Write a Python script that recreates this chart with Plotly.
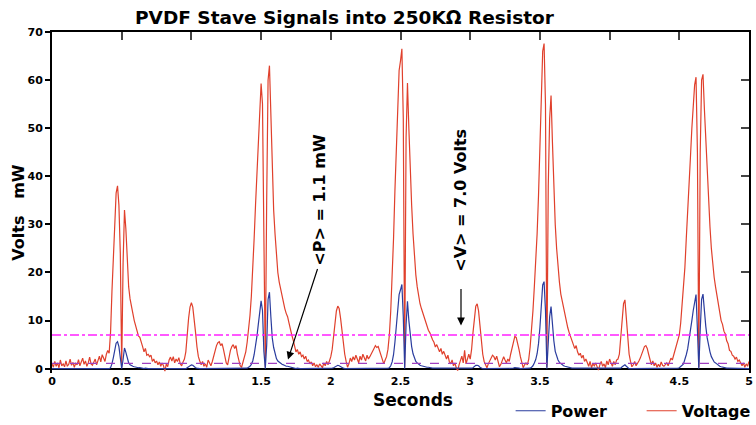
import plotly.graph_objects as go

# time base: 0.00 .. 5.00 s, 0.01 s sampling
seconds = [i / 100 for i in range(501)]

# Voltage (V), one row per 0.1 s
voltage = [
    1.0, 0.3, 1.5, 0.5, 1.2, 0.2, 1.8, 0.6, 1.0, 0.4,
    1.6, 0.5, 0.9, 2.0, 0.7, 1.3, 0.3, 1.1, 0.8, 1.9,
    0.6, 1.4, 2.2, 0.9, 1.6, 0.5, 1.2, 2.4, 1.0, 0.7,
    1.5, 2.0, 0.8, 1.7, 2.6, 1.4, 2.9, 2.2, 1.5, 3.0,
    3.8, 3.2, 7.5, 16.0, 24.0, 31.0, 36.5, 38.0, 34.0, 24.0,
    0.3, 22.0, 33.0, 29.0, 22.0, 17.0, 14.5, 12.5, 11.5, 10.0,
    8.8, 7.5, 6.8, 6.5, 5.2, 4.6, 3.5, 4.2, 2.8, 3.0,
    2.5, 2.8, 1.5, 2.0, 1.2, 1.6, 0.8, 1.4, 0.5, 1.2,
    0.6, -0.5, 1.0, 0.4, 1.8, 2.4, 1.6, 2.5, 1.2, 2.0,
    1.5, 2.3, 1.0, 0.6, 1.4, 2.0, 3.5, 7.5, 10.5, 12.8,
    13.7, 12.8, 10.5, 7.5, 4.5, 2.5, 1.6, 0.8, 1.5, 0.5,
    1.0, 0.3, 1.8, 1.0, 0.6, 1.5, 2.8, 4.0, 4.8, 5.4,
    5.6, 4.8, 5.2, 4.0, 2.5, 1.2, 0.8, 2.5, 3.8, 4.6,
    5.0, 4.2, 4.8, 3.0, 1.5, 0.6, 0.3, 1.2, 2.5, 3.5,
    5.5, 8.0, 11.0, 15.0, 20.0, 27.0, 34.0, 41.0, 48.0, 54.0,
    59.3, 55.0, 30.0, 0.3, 35.0, 60.0, 63.0, 52.0, 40.0, 33.0,
    28.0, 23.0, 20.0, 18.0, 16.5, 15.0, 14.0, 12.5, 11.5, 10.8,
    9.5, 8.0, 7.0, 6.0, 5.0, 3.5, 4.0, 3.0, 3.5, 2.5,
    2.8, 2.0, 2.6, 1.5, 1.8, 1.0, 1.4, 0.6, 1.2, 0.4,
    0.8, 0.3, 1.0, 0.5, 0.2, 1.2, 0.6, 1.5, 0.8, 1.6,
    2.5, 4.0, 6.5, 9.5, 12.0, 13.0, 12.5, 10.5, 7.5, 5.0,
    3.0, 1.5, 0.3, 1.0, 2.2, 1.5, 2.5, 1.8, 2.8, 2.0,
    1.2, 2.6, 1.8, 3.0, 2.2, 1.6, 2.8, 2.0, 2.5, 3.2,
    3.8, 4.2, 4.8, 4.4, 4.6, 3.8, 2.6, 2.2, 1.0, 1.8,
    2.5, 4.0, 7.0, 12.0, 19.0, 27.0, 37.0, 47.0, 56.0, 62.0,
    64.0, 66.5, 52.0, 0.3, 48.0, 59.4, 50.0, 41.0, 34.0, 28.0,
    23.0, 19.5, 17.0, 15.0, 13.5, 12.5, 11.5, 10.5, 9.8, 9.0,
    8.0, 7.5, 6.5, 6.0, 5.5, 4.5, 5.0, 4.0, 3.5, 4.2,
    3.0, 3.6, 2.5, 2.0, 2.8, 1.5, 1.0, 1.8, 0.6, 1.2,
    0.2, -0.4, 0.8, 1.5, 2.6, 1.2, 3.8, 1.0, 2.0, 3.0,
    2.0, 4.0, 7.5, 11.0, 13.0, 13.5, 12.0, 9.0, 5.5, 3.0,
    1.5, 0.8, 0.2, 1.0, 1.6, 2.2, 2.8, 2.5, 1.8, 2.6,
    1.2, 0.4, 0.9, 1.6, 2.5, 1.8, 1.2, 2.0, 1.5, 3.0,
    4.5, 6.0, 6.7, 6.5, 5.5, 4.0, 2.5, 1.0, 0.2, 0.8,
    1.2, 0.8, 2.0, 4.5, 8.0, 12.0, 17.0, 22.0, 28.0, 36.0,
    46.0, 58.0, 66.0, 67.6, 55.0, 0.3, 38.0, 52.0, 56.8, 47.0,
    38.0, 30.0, 25.0, 21.0, 18.0, 15.5, 14.0, 12.5, 11.0, 9.5,
    8.5, 7.5, 6.5, 5.5, 5.0, 4.2, 4.8, 3.5, 2.8, 3.2,
    2.2, 2.8, 1.5, 2.0, 1.2, 0.5, 1.5, 0.2, 1.0, 0.6,
    1.2, 0.4, -0.3, 0.8, 1.5, 0.5, 1.0, 0.2, 1.6, 0.8,
    2.0, 1.2, 0.5, 1.5, 0.8, 1.8, 2.0, 3.0, 6.0, 10.5,
    13.5, 14.3, 11.0, 6.5, 3.0, 1.5, 0.4, 0.8, 1.5, 0.6,
    1.0, 1.6, 2.2, 3.0, 4.0, 4.6, 4.8, 4.2, 3.0, 1.8,
    0.8, 1.6, 0.6, 1.2, 0.3, 0.9, 0.4, 1.4, 0.7, 0.5,
    0.8, 1.2, 0.6, 1.5, 2.2, 1.8, 2.8, 3.5, 4.5, 5.5,
    7.0, 9.5, 13.0, 16.0, 21.0, 27.0, 32.0, 38.0, 44.0, 50.0,
    55.0, 59.0, 60.6, 45.0, 0.3, 45.0, 60.0, 61.2, 54.0, 47.0,
    40.0, 34.0, 29.5, 25.0, 21.5, 19.0, 17.0, 15.0, 13.0, 11.5,
    10.0, 9.2, 7.8, 7.2, 5.8, 5.2, 3.8, 3.6, 2.8, 2.6,
    2.0, 2.4, 1.5, 1.8, 1.0, 0.6, 1.2, 0.3, 1.0, 0.5,
    1.5,
]

# Power (mW), one row per 0.1 s
power = [
    0, 0, 0, 0, 0, 0, 0, 0, 0, 0,
    0, 0, 0, 0, 0, 0, 0, 0, 0, 0,
    0, 0, 0, 0, 0, 0, 0, 0, 0, 0,
    0, 0, 0, 0, 0, 0, 0, 0, 0, 0,
    0.1, 0.0, 0.2, 1.0, 2.3, 3.8, 5.3, 5.6, 4.6, 2.3,
    0.0, 1.9, 4.3, 3.4, 1.9, 1.2, 0.8, 0.6, 0.5, 0.4,
    0.3, 0.2, 0.2, 0.2, 0.1, 0.1, 0.0, 0.1, 0.0, 0.0,
    0, 0, 0, 0, 0, 0, 0, 0, 0, 0,
    0, 0, 0, 0, 0, 0, 0, 0, 0, 0,
    0, 0, 0, 0, 0, 0, 0.0, 0.2, 0.4, 0.7,
    0.8, 0.7, 0.4, 0.2, 0.1, 0, 0, 0, 0, 0,
    0, 0, 0, 0, 0, 0, 0, 0.1, 0.1, 0.1,
    0.1, 0.1, 0.1, 0.1, 0, 0, 0, 0, 0.1, 0.1,
    0.1, 0.1, 0.1, 0, 0, 0, 0, 0, 0, 0,
    0.1, 0.3, 0.5, 0.9, 1.6, 2.9, 4.6, 6.7, 9.2, 11.7,
    14.1, 12.1, 3.6, 0.0, 4.9, 14.4, 15.9, 10.8, 6.4, 4.4,
    3.1, 2.1, 1.6, 1.3, 1.1, 0.9, 0.8, 0.6, 0.5, 0.5,
    0.4, 0.3, 0.2, 0.1, 0.1, 0, 0.1, 0, 0, 0,
    0, 0, 0, 0, 0, 0, 0, 0, 0, 0,
    0, 0, 0, 0, 0, 0, 0, 0, 0, 0,
    0, 0.1, 0.2, 0.4, 0.6, 0.7, 0.6, 0.4, 0.2, 0.1,
    0, 0, 0, 0, 0, 0, 0, 0, 0, 0,
    0, 0, 0, 0, 0, 0, 0, 0, 0, 0,
    0.1, 0.1, 0.1, 0.1, 0.1, 0.1, 0, 0, 0, 0,
    0, 0.1, 0.2, 0.6, 1.4, 2.9, 5.5, 8.8, 12.5, 15.4,
    16.4, 17.5, 10.8, 0.0, 9.2, 14.0, 10.0, 6.7, 4.6, 3.1,
    2.1, 1.5, 1.2, 0.9, 0.7, 0.6, 0.5, 0.4, 0.4, 0.3,
    0.3, 0.2, 0.2, 0.1, 0.1, 0.1, 0.1, 0.1, 0, 0.1,
    0, 0, 0, 0, 0, 0, 0, 0, 0, 0,
    0, 0, 0, 0, 0, 0, 0, 0, 0, 0,
    0, 0.1, 0.2, 0.5, 0.7, 0.7, 0.6, 0.3, 0.1, 0,
    0, 0, 0, 0, 0, 0, 0, 0, 0, 0,
    0, 0, 0, 0, 0, 0, 0, 0, 0, 0,
    0.1, 0.1, 0.2, 0.2, 0.1, 0.1, 0, 0, 0, 0,
    0, 0, 0, 0.1, 0.3, 0.6, 1.2, 1.9, 3.1, 5.2,
    8.5, 13.5, 17.4, 18.1, 12.1, 0.0, 5.8, 10.8, 12.9, 8.8,
    5.8, 3.6, 2.5, 1.8, 1.3, 1.0, 0.8, 0.6, 0.5, 0.4,
    0.3, 0.2, 0.2, 0.1, 0.1, 0.1, 0.1, 0, 0, 0,
    0, 0, 0, 0, 0, 0, 0, 0, 0, 0,
    0, 0, 0, 0, 0, 0, 0, 0, 0, 0,
    0, 0, 0, 0, 0, 0, 0, 0, 0.1, 0.4,
    0.7, 0.8, 0.5, 0.2, 0, 0, 0, 0, 0, 0,
    0, 0, 0, 0, 0.1, 0.1, 0.1, 0.1, 0, 0,
    0, 0, 0, 0, 0, 0, 0, 0, 0, 0,
    0, 0, 0, 0, 0, 0, 0, 0, 0.1, 0.1,
    0.2, 0.4, 0.7, 1.0, 1.8, 2.9, 4.1, 5.8, 7.7, 10.0,
    12.1, 13.9, 15.4, 8.1, 0.0, 8.1, 14.4, 15.5, 11.7, 8.8,
    6.4, 4.6, 3.5, 2.5, 1.8, 1.4, 1.2, 0.9, 0.7, 0.5,
    0.4, 0.3, 0.2, 0.2, 0.1, 0.1, 0.1, 0.1, 0, 0,
    0, 0, 0, 0, 0, 0, 0, 0, 0, 0,
    0,
]

mean_voltage = 7.0   # <V>
mean_power = 1.1     # <P>

x_ticks = [0, 0.5, 1, 1.5, 2, 2.5, 3, 3.5, 4, 4.5, 5]
x_tick_text = ["0", "0.5", "1", "1.5", "2", "2.5", "3", "3.5", "4", "4.5", "5"]
y_ticks = [0, 10, 20, 30, 40, 50, 60, 70]

title_text = "PVDF Stave Signals into 250K\u03a9 Resistor"

FONT = "DejaVu Sans"
RED = "#e0402c"
BLUE = "#2a3c9e"

fig = go.Figure()
fig.add_trace(go.Scatter(x=seconds, y=voltage, mode="lines", name="Voltage",
                         line=dict(color=RED, width=1.2), legendrank=2))
fig.add_trace(go.Scatter(x=seconds, y=power, mode="lines", name="Power",
                         line=dict(color=BLUE, width=1.2), legendrank=1))
# invisible trace for mirrored top / right axes
fig.add_trace(go.Scatter(x=[0], y=[0], xaxis="x2", yaxis="y2", mode="markers",
                         marker=dict(opacity=0), showlegend=False, hoverinfo="skip"))

fig.add_hline(y=mean_voltage, line=dict(color="#ff22ff", width=1.6, dash="dashdot"))
fig.add_hline(y=mean_power, line=dict(color="#a040c0", width=1.1, dash="dash"))

fig.update_layout(
    width=756, height=425,
    margin=dict(l=52, r=7, t=32, b=52, autoexpand=False),
    paper_bgcolor="white", plot_bgcolor="white",
    font=dict(family=FONT, color="black"),
    showlegend=True,
    legend=dict(orientation="h", x=0.658, y=-0.111, xanchor="left", yanchor="middle",
                font=dict(family=FONT, size=16, weight="bold"),
                entrywidth=86, entrywidthmode="pixels",
                bgcolor="rgba(0,0,0,0)"),
    xaxis=dict(range=[0, 5], tickvals=x_ticks, ticktext=x_tick_text,
               showgrid=False, zeroline=False, showline=False, ticks="",
               tickfont=dict(family=FONT, size=11, weight="bold")),
    yaxis=dict(range=[-0.9, 70], tickvals=y_ticks, showgrid=False,
               zeroline=True, zerolinecolor="black", zerolinewidth=2,
               showline=True, linecolor="black", linewidth=2,
               ticks="outside", ticklen=5, tickcolor="black", tickwidth=1.5,
               tickfont=dict(family=FONT, size=11, weight="bold")),
    xaxis2=dict(overlaying="x", matches="x", side="top", range=[0, 5],
                tickvals=x_ticks[1:-1], showticklabels=False,
                ticks="inside", ticklen=8, tickcolor="#444", tickwidth=1.5,
                showline=True, linecolor="black", linewidth=2, showgrid=False,
                zeroline=False),
    yaxis2=dict(overlaying="y", matches="y", side="right", range=[-0.9, 70],
                tickvals=y_ticks[1:-1], showticklabels=False,
                ticks="inside", ticklen=8, tickcolor="#444", tickwidth=1.5,
                showline=True, linecolor="black", linewidth=2, showgrid=False,
                zeroline=False),
)

anns = [
    dict(text="<b>" + title_text + "</b>", xref="paper", yref="paper",
         x=(345 - 52) / 697, y=1, yshift=15, xanchor="center", yanchor="middle",
         showarrow=False, font=dict(family=FONT, size=18.5)),
    dict(text="<b>Seconds</b>", xref="paper", yref="paper",
         x=(413 - 52) / 697, y=0, yshift=-27, xanchor="center", yanchor="middle",
         showarrow=False, font=dict(family=FONT, size=17)),
    dict(text="<b>Volts   mW</b>", xref="paper", yref="y",
         x=0, xshift=-33, y=(369 - 213) / 4.81, xanchor="center", yanchor="middle",
         textangle=-90, showarrow=False, font=dict(family=FONT, size=16)),
    dict(text="<b>&lt;P&gt; = 1.1 mW</b>", xref="x", yref="y",
         x=(320 - 52) / 139.4, y=(369 - 200) / 4.81, xanchor="center", yanchor="middle",
         textangle=-90, showarrow=False, font=dict(family=FONT, size=16)),
    dict(text="<b>&lt;V&gt; = 7.0 Volts</b>", xref="x", yref="y",
         x=(461 - 52) / 139.4, y=(369 - 201) / 4.81, xanchor="center", yanchor="middle",
         textangle=-90, showarrow=False, font=dict(family=FONT, size=16)),
    dict(text="", x=1.693, y=1.9, xref="x", yref="y", ax=30, ay=-92,
         showarrow=True, arrowhead=2, arrowsize=1.3, arrowwidth=1.2, arrowcolor="black"),
    dict(text="", x=2.934, y=9.0, xref="x", yref="y", ax=0, ay=-38,
         showarrow=True, arrowhead=2, arrowsize=1.3, arrowwidth=1.2, arrowcolor="black"),
]
fig.update_layout(annotations=anns)

fig.write_html("out.html")
